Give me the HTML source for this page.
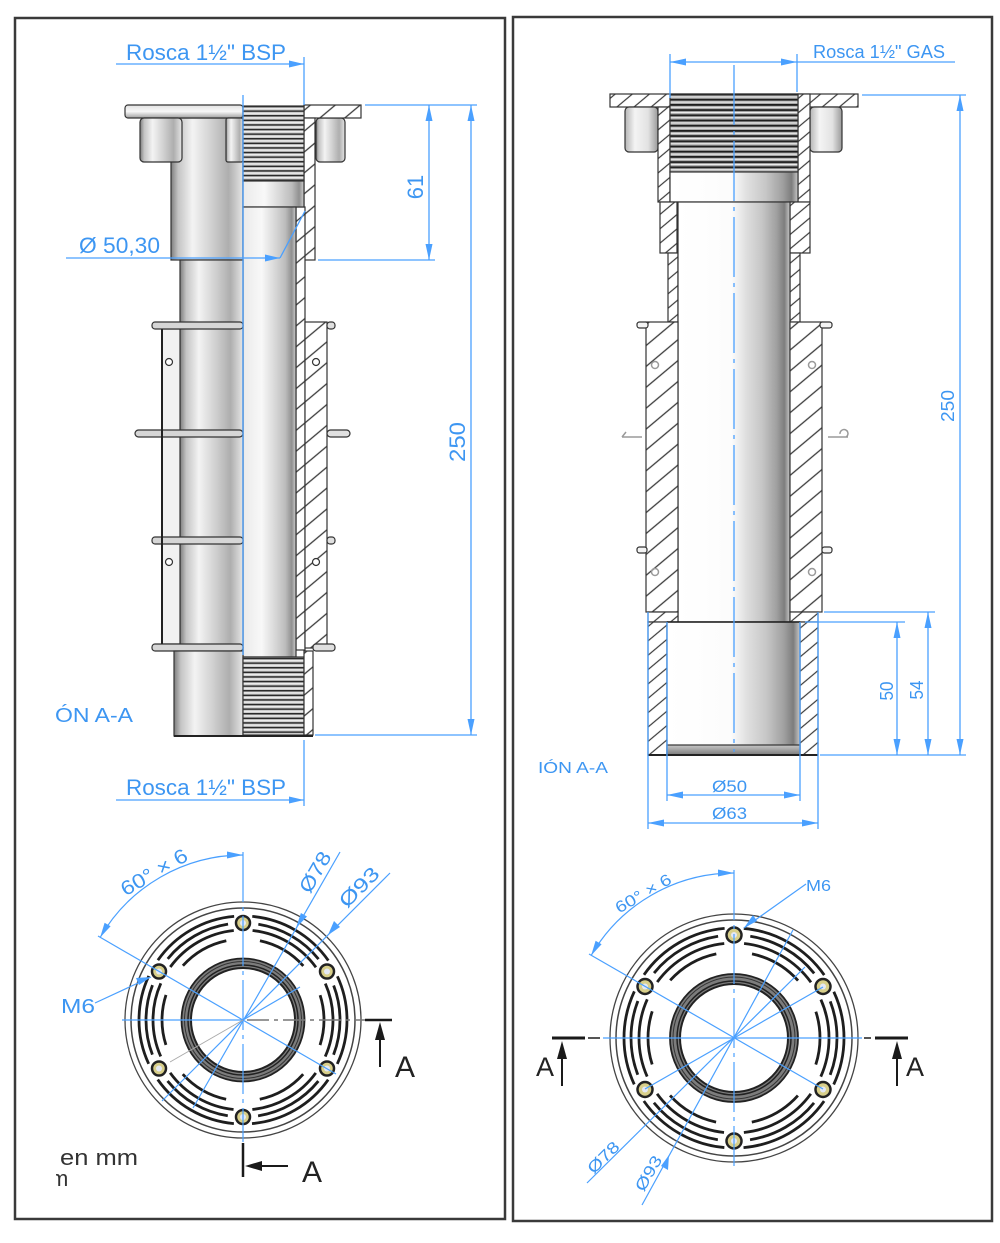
<!DOCTYPE html>
<html><head><meta charset="utf-8"><style>
html,body{margin:0;padding:0;background:#fff;}
svg{display:block;}
text{font-family:"Liberation Sans",sans-serif;}
</style></head><body>
<svg width="1000" height="1243" viewBox="0 0 1000 1243" xmlns="http://www.w3.org/2000/svg">
<defs>
<pattern id="hA" width="16" height="16" patternUnits="userSpaceOnUse" patternTransform="rotate(50)">
<rect width="16" height="16" fill="#fff"/><line x1="8" y1="0" x2="8" y2="16" stroke="#3a3a3a" stroke-width="1.3"/></pattern>
<pattern id="hB" width="11" height="11" patternUnits="userSpaceOnUse" patternTransform="rotate(50)">
<rect width="11" height="11" fill="#fff"/><line x1="5.5" y1="0" x2="5.5" y2="11" stroke="#3a3a3a" stroke-width="1.2"/></pattern>
<pattern id="tL" width="10" height="4.6" patternUnits="userSpaceOnUse">
<rect width="10" height="4.6" fill="#cdcdcd"/><rect width="10" height="1.5" fill="#2a2a2a"/><rect y="2.4" width="10" height="1" fill="#f3f3f3"/></pattern>
<pattern id="tR" width="10" height="5.2" patternUnits="userSpaceOnUse">
<rect width="10" height="5.2" fill="#a8a8a8"/><rect width="10" height="1.8" fill="#1e1e1e"/><rect y="2.8" width="10" height="1.1" fill="#eeeeee"/></pattern>
<linearGradient id="cylL" x1="0" x2="1" y1="0" y2="0">
<stop offset="0" stop-color="#7d7d7d"/><stop offset=".1" stop-color="#c4c4c4"/><stop offset=".3" stop-color="#f3f3f3"/><stop offset=".55" stop-color="#d2d2d2"/><stop offset=".8" stop-color="#aeaeae"/><stop offset=".92" stop-color="#cfcfcf"/><stop offset="1" stop-color="#e6e6e6"/></linearGradient>
<linearGradient id="boreL" x1="0" x2="1" y1="0" y2="0">
<stop offset="0" stop-color="#eaeaea"/><stop offset=".35" stop-color="#f8f8f8"/><stop offset=".6" stop-color="#d8d8d8"/><stop offset=".8" stop-color="#bcbcbc"/><stop offset=".92" stop-color="#909090"/><stop offset="1" stop-color="#cfcfcf"/></linearGradient>
<linearGradient id="boreR" x1="0" x2="1" y1="0" y2="0">
<stop offset="0" stop-color="#ffffff"/><stop offset=".48" stop-color="#fcfcfc"/><stop offset=".6" stop-color="#e0e0e0"/><stop offset=".75" stop-color="#c6c6c6"/><stop offset=".88" stop-color="#a0a0a0"/><stop offset=".95" stop-color="#7d7d7d"/><stop offset="1" stop-color="#c9c9c9"/></linearGradient>
<linearGradient id="cylR" x1="0" x2="1" y1="0" y2="0">
<stop offset="0" stop-color="#b5b5b5"/><stop offset=".3" stop-color="#f4f4f4"/><stop offset=".7" stop-color="#e2e2e2"/><stop offset="1" stop-color="#9a9a9a"/></linearGradient>
<linearGradient id="flg" x1="0" x2="0" y1="0" y2="1">
<stop offset="0" stop-color="#e2e2e2"/><stop offset=".5" stop-color="#f8f8f8"/><stop offset="1" stop-color="#a0a0a0"/></linearGradient>
<linearGradient id="band" x1="0" x2="0" y1="0" y2="1">
<stop offset="0" stop-color="#c8c8c8"/><stop offset="1" stop-color="#7a7a7a"/></linearGradient>
<clipPath id="clipL"><rect x="56" y="0" width="400" height="1243"/></clipPath>
</defs>

<!-- frames -->
<rect x="15" y="18" width="490" height="1201" fill="#fff" stroke="#3a3a3a" stroke-width="2.5"/>
<rect x="513" y="17" width="479" height="1204" fill="#fff" stroke="#3a3a3a" stroke-width="2.5"/>

<!-- ============ LEFT ELEVATION ============ -->
<g stroke="#333" stroke-width="1.2">
<rect x="171" y="118" width="72" height="142" fill="url(#cylL)"/>
<rect x="125" y="105" width="118" height="13" rx="3" fill="url(#flg)"/>
<rect x="140" y="118" width="42" height="44" rx="4" fill="url(#cylL)"/>
<rect x="226" y="118" width="17" height="44" rx="2" fill="url(#cylL)"/>
<rect x="316" y="118" width="29" height="44" rx="4" fill="url(#cylL)"/>
<rect x="304" y="105" width="57" height="13" fill="url(#hA)"/>
<rect x="304" y="118" width="11" height="142" fill="url(#hA)"/>
<rect x="296" y="207" width="9" height="443" fill="url(#hA)"/>
<rect x="305" y="322" width="22" height="326" fill="url(#hA)"/>
<rect x="243" y="106" width="61" height="75" fill="url(#tL)"/>
<rect x="243" y="181" width="61" height="26" fill="url(#boreL)"/>
<rect x="243" y="207" width="53" height="450" fill="url(#boreL)"/>
<rect x="180" y="260" width="63" height="390" fill="url(#cylL)"/>
<rect x="162" y="329" width="18" height="315" fill="#f2f2f2"/>
<rect x="152" y="322" width="91" height="7" rx="3" fill="#d6d6d6"/>
<rect x="135" y="430" width="108" height="7" rx="3.5" fill="#d6d6d6"/>
<rect x="152" y="537" width="91" height="7" rx="3" fill="#d6d6d6"/>
<rect x="152" y="644" width="91" height="7" rx="3" fill="#d6d6d6"/>
<rect x="327" y="322" width="8" height="7" rx="3" fill="#e0e0e0"/>
<rect x="327" y="430" width="23" height="7" rx="3.5" fill="#e0e0e0"/>
<rect x="327" y="537" width="8" height="7" rx="3" fill="#e0e0e0"/>
<rect x="313" y="644" width="22" height="7" rx="3" fill="#e0e0e0"/>
<rect x="174" y="651" width="69" height="85" fill="url(#cylL)"/>
<rect x="243" y="657" width="61" height="78" fill="url(#tL)"/>
<rect x="304" y="651" width="9" height="84" fill="url(#hA)"/>
<circle cx="169" cy="362" r="3.5" fill="#fff"/>
<circle cx="169" cy="562" r="3.5" fill="#fff"/>
<circle cx="316" cy="362" r="3.5" fill="#fff"/>
<circle cx="316" cy="562" r="3.5" fill="#fff"/>
</g>
<line x1="162" y1="329" x2="162" y2="644" stroke="#222" stroke-width="2"/>
<line x1="174" y1="736" x2="313" y2="736" stroke="#222" stroke-width="2"/>

<g stroke="#4aa0ff" stroke-width="1.3" fill="none">
<line x1="243" y1="95" x2="243" y2="655"/>
<line x1="116" y1="64" x2="304" y2="64"/>
<line x1="304" y1="57" x2="304" y2="105"/>
<line x1="365" y1="105" x2="477" y2="105"/>
<line x1="318" y1="260" x2="435" y2="260"/>
<line x1="429" y1="105" x2="429" y2="260"/>
<line x1="471" y1="105" x2="471" y2="735"/>
<line x1="315" y1="735" x2="477" y2="735"/>
<line x1="66" y1="258" x2="280" y2="258"/>
<line x1="280" y1="258" x2="305" y2="211"/>
<line x1="116" y1="800" x2="304" y2="800"/>
<line x1="304" y1="740" x2="304" y2="806"/>
</g>
<g fill="#4aa0ff">
<polygon points="304,64 289,60.5 289,67.5"/>
<polygon points="304,800 289,796.5 289,803.5"/>
<polygon points="280,258 265,254.5 265,261.5"/>
<polygon points="429,105 425.5,121 432.5,121"/>
<polygon points="429,260 425.5,244 432.5,244"/>
<polygon points="471,105 467.5,121 474.5,121"/>
<polygon points="471,735 467.5,719 474.5,719"/>
</g>
<g fill="#3d96f2">
<text x="126" y="60" font-size="22" textLength="160" lengthAdjust="spacingAndGlyphs">Rosca 1½" BSP</text>
<text x="126" y="795" font-size="22" textLength="160" lengthAdjust="spacingAndGlyphs">Rosca 1½" BSP</text>
<text x="79" y="253" font-size="22" textLength="81" lengthAdjust="spacingAndGlyphs">Ø 50,30</text>
<text x="55" y="722" font-size="20" textLength="78" lengthAdjust="spacingAndGlyphs">ÓN A-A</text>
<text transform="translate(415,187) rotate(-90)" x="0" y="8" font-size="22" text-anchor="middle">61</text>
<text transform="translate(457,442) rotate(-90)" x="0" y="8" font-size="22" text-anchor="middle" textLength="40" lengthAdjust="spacingAndGlyphs">250</text>
</g>

<!-- ============ RIGHT SECTION ============ -->
<g stroke="#333" stroke-width="1.2">
<rect x="610" y="94" width="248" height="13" fill="url(#hB)"/>
<rect x="625" y="107" width="33" height="45" rx="4" fill="url(#cylR)"/>
<rect x="810" y="107" width="32" height="45" rx="4" fill="url(#cylR)"/>
<rect x="658" y="107" width="12" height="95" fill="url(#hB)"/>
<rect x="798" y="94" width="12" height="108" fill="url(#hB)"/>
<rect x="670" y="94" width="128" height="78" fill="url(#tR)"/>
<rect x="670" y="172" width="128" height="30" fill="url(#boreR)"/>
<rect x="660" y="202" width="17" height="51" fill="url(#hB)"/>
<rect x="668" y="253" width="10" height="69" fill="url(#hB)"/>
<rect x="790" y="202" width="20" height="51" fill="url(#hB)"/>
<rect x="790" y="253" width="10" height="69" fill="url(#hB)"/>
<rect x="678" y="202" width="112" height="420" fill="url(#boreR)"/>
<rect x="646" y="322" width="32" height="290" fill="url(#hA)"/>
<rect x="790" y="322" width="32" height="290" fill="url(#hA)"/>
<rect x="637" y="322" width="11" height="6" rx="2.5" fill="#f4f4f4"/>
<rect x="820" y="322" width="12" height="6" rx="2.5" fill="#f4f4f4"/>
<rect x="637" y="547" width="10" height="6" rx="2.5" fill="#f4f4f4"/>
<rect x="822" y="547" width="10" height="6" rx="2.5" fill="#f4f4f4"/>
<rect x="648" y="612" width="30" height="10" fill="url(#hB)"/>
<rect x="790" y="612" width="28" height="10" fill="url(#hB)"/>
<rect x="648" y="622" width="19" height="133" fill="url(#hB)"/>
<rect x="800" y="622" width="18" height="133" fill="url(#hB)"/>
<rect x="667" y="622" width="133" height="133" fill="url(#boreR)"/>
<rect x="667" y="745" width="133" height="10" fill="url(#band)"/>
</g>
<g fill="none" stroke="#9a9a9a" stroke-width="1.5">
<path d="M622 437 h20 M622 437 l4 -5"/>
<path d="M828 437 h20 M846 437 a4 4 0 1 0 -6 -3"/>
<circle cx="655" cy="365" r="3.5"/><circle cx="812" cy="365" r="3.5"/>
<circle cx="655" cy="572" r="3.5"/><circle cx="812" cy="572" r="3.5"/>
</g>
<line x1="648" y1="755" x2="818" y2="755" stroke="#222" stroke-width="2"/>
<line x1="667" y1="622" x2="800" y2="622" stroke="#222" stroke-width="1.6"/>

<g stroke="#4aa0ff" stroke-width="1.3" fill="none">
<line x1="734" y1="65" x2="734" y2="752" stroke-dasharray="60 6 4 6"/>
<line x1="670" y1="54" x2="670" y2="98"/>
<line x1="797" y1="54" x2="797" y2="92"/>
<line x1="670" y1="62" x2="955" y2="62"/>
<line x1="862" y1="95" x2="966" y2="95"/>
<line x1="960" y1="95" x2="960" y2="755"/>
<line x1="824" y1="612" x2="935" y2="612"/>
<line x1="805" y1="622" x2="905" y2="622"/>
<line x1="820" y1="755" x2="966" y2="755"/>
<line x1="897" y1="622" x2="897" y2="755"/>
<line x1="928" y1="612" x2="928" y2="755"/>
<line x1="667" y1="622" x2="667" y2="801"/>
<line x1="800" y1="622" x2="800" y2="801"/>
<line x1="648" y1="612" x2="648" y2="829"/>
<line x1="818" y1="612" x2="818" y2="829"/>
<line x1="667" y1="795" x2="800" y2="795"/>
<line x1="648" y1="823" x2="818" y2="823"/>
</g>
<g fill="#4aa0ff">
<polygon points="670,62 686,58.5 686,65.5"/>
<polygon points="797,62 781,58.5 781,65.5"/>
<polygon points="960,95 956.5,111 963.5,111"/>
<polygon points="960,755 956.5,739 963.5,739"/>
<polygon points="897,622 893.5,638 900.5,638"/>
<polygon points="897,755 893.5,739 900.5,739"/>
<polygon points="928,612 924.5,628 931.5,628"/>
<polygon points="928,755 924.5,739 931.5,739"/>
<polygon points="667,795 683,791.5 683,798.5"/>
<polygon points="800,795 784,791.5 784,798.5"/>
<polygon points="648,823 664,819.5 664,826.5"/>
<polygon points="818,823 802,819.5 802,826.5"/>
</g>
<g fill="#3d96f2">
<text x="813" y="58" font-size="18" textLength="132" lengthAdjust="spacingAndGlyphs">Rosca 1½" GAS</text>
<text transform="translate(948,406) rotate(-90)" x="0" y="6" font-size="18" text-anchor="middle" textLength="32" lengthAdjust="spacingAndGlyphs">250</text>
<text transform="translate(887,691) rotate(-90)" x="0" y="6" font-size="18" text-anchor="middle" textLength="19" lengthAdjust="spacingAndGlyphs">50</text>
<text transform="translate(917,690) rotate(-90)" x="0" y="6" font-size="18" text-anchor="middle" textLength="19" lengthAdjust="spacingAndGlyphs">54</text>
<text x="712" y="792" font-size="17" textLength="35" lengthAdjust="spacingAndGlyphs">Ø50</text>
<text x="712" y="819" font-size="17" textLength="35" lengthAdjust="spacingAndGlyphs">Ø63</text>
<text x="538" y="773" font-size="16" textLength="70" lengthAdjust="spacingAndGlyphs">IÓN A-A</text>
</g>

<!-- ============ LEFT PLAN ============ -->
<g>
<circle cx="243" cy="1020" r="118" fill="#fff" stroke="#444" stroke-width="1.3"/>
<circle cx="243" cy="1020" r="112" fill="none" stroke="#444" stroke-width="1.5"/>
<g fill="none" stroke="#1e1e1e" stroke-width="2.8">
<circle cx="243" cy="1020" r="104" stroke-dasharray="90.76 18.15" stroke-dashoffset="45.38"/>
<circle cx="243" cy="1020" r="97" stroke-dasharray="71.11 30.47" stroke-dashoffset="35.55"/>
<circle cx="243" cy="1020" r="90" stroke-dasharray="75.40 18.85" stroke-dashoffset="37.70"/>
<circle cx="243" cy="1020" r="81" stroke-dasharray="50.89 33.93" stroke-dashoffset="25.45"/>
</g>
<circle cx="243" cy="1020" r="57" fill="none" stroke="#7c7c7c" stroke-width="9"/>
<circle cx="243" cy="1020" r="61.5" fill="none" stroke="#222" stroke-width="1.8"/>
<circle cx="243" cy="1020" r="58.5" fill="none" stroke="#333" stroke-width="1"/>
<circle cx="243" cy="1020" r="55" fill="none" stroke="#222" stroke-width="1.5"/>
<circle cx="243" cy="1020" r="52" fill="#fff" stroke="#222" stroke-width="2"/>
<g fill="#d8cf8a" stroke="#222" stroke-width="2.5">
<circle cx="243" cy="923" r="7"/><circle cx="327" cy="971.5" r="7"/><circle cx="327" cy="1068.5" r="7"/>
<circle cx="243" cy="1117" r="7"/><circle cx="159" cy="1068.5" r="7"/><circle cx="159" cy="971.5" r="7"/>
</g>
<g fill="#e4e8f4">
<circle cx="243" cy="923" r="3"/><circle cx="327" cy="971.5" r="3"/><circle cx="327" cy="1068.5" r="3"/>
<circle cx="243" cy="1117" r="3"/><circle cx="159" cy="1068.5" r="3"/><circle cx="159" cy="971.5" r="3"/>
</g>
</g>
<g stroke="#4aa0ff" stroke-width="1.2" fill="none">
<line x1="122" y1="1020" x2="243" y2="1020"/>
<line x1="243" y1="852" x2="243" y2="1142" stroke-dasharray="50 5 4 5"/>
<line x1="98" y1="936" x2="336" y2="1074"/>
<line x1="243" y1="1020" x2="300" y2="987"/>
<line x1="340" y1="852" x2="193" y2="1108"/>
<line x1="390" y1="873" x2="162" y2="1101"/>
<path d="M243 855 A165 165 0 0 0 100.1 937.5"/>
<line x1="95" y1="1003" x2="151" y2="977"/>
</g>
<line x1="243" y1="1020" x2="170" y2="1062" stroke="#aaa" stroke-width="1"/>
<line x1="247" y1="1020" x2="365" y2="1020" stroke="#777" stroke-width="1.5" stroke-dasharray="22 5 4 5"/>
<g fill="#4aa0ff">
<polygon points="243,855 227,851.5 227,858.5"/>
<polygon points="100.1,937.5 110.6,926.2 104.6,922.8"/>
<polygon points="296,928 300.9,913 307,916.5"/>
<polygon points="328,935 334,921 340,927"/>
<polygon points="151,977 136,978 139,985"/>
</g>
<g fill="#3d96f2" font-size="20">
<text transform="translate(154,872) rotate(-30)" x="0" y="7" text-anchor="middle" textLength="74" lengthAdjust="spacingAndGlyphs">60° × 6</text>
<text transform="translate(315,872) rotate(-60)" x="0" y="7" text-anchor="middle" textLength="44" lengthAdjust="spacingAndGlyphs">Ø78</text>
<text transform="translate(359,887) rotate(-45)" x="0" y="7" text-anchor="middle" textLength="48" lengthAdjust="spacingAndGlyphs">Ø93</text>
<text x="61" y="1013" textLength="34" lengthAdjust="spacingAndGlyphs">M6</text>
</g>
<g stroke="#1a1a1a" fill="none">
<line x1="365" y1="1020" x2="392" y2="1020" stroke-width="2.5"/>
<line x1="380" y1="1067" x2="380" y2="1036" stroke-width="2"/>
<line x1="243" y1="1143" x2="243" y2="1177" stroke-width="2.5"/>
<line x1="288" y1="1166" x2="258" y2="1166" stroke-width="2"/>
</g>
<g fill="#1a1a1a">
<polygon points="380,1022 375,1040 385,1040"/>
<polygon points="245,1166 262,1161 262,1171"/>
</g>
<g fill="#222" font-size="30">
<text x="395" y="1077">A</text>
<text x="302" y="1182">A</text>
</g>
<g fill="#333" font-size="22">
<text x="60" y="1165" textLength="78" lengthAdjust="spacingAndGlyphs">en mm</text>
<text x="50" y="1186" clip-path="url(#clipL)">m</text>
</g>

<!-- ============ RIGHT PLAN ============ -->
<g>
<circle cx="734" cy="1038" r="124" fill="#fff" stroke="#444" stroke-width="1.3"/>
<circle cx="734" cy="1038" r="118" fill="none" stroke="#444" stroke-width="1.5"/>
<g fill="none" stroke="#1e1e1e" stroke-width="2.8">
<circle cx="734" cy="1038" r="110" stroke-dasharray="95.99 19.2" stroke-dashoffset="48.0"/>
<circle cx="734" cy="1038" r="103" stroke-dasharray="75.50 32.36" stroke-dashoffset="37.75"/>
<circle cx="734" cy="1038" r="95" stroke-dasharray="79.58 19.90" stroke-dashoffset="39.79"/>
<circle cx="734" cy="1038" r="86" stroke-dasharray="54.04 36.02" stroke-dashoffset="27.02"/>
</g>
<circle cx="734" cy="1038" r="59" fill="none" stroke="#7c7c7c" stroke-width="10"/>
<circle cx="734" cy="1038" r="64" fill="none" stroke="#222" stroke-width="1.8"/>
<circle cx="734" cy="1038" r="61" fill="none" stroke="#333" stroke-width="1"/>
<circle cx="734" cy="1038" r="57" fill="none" stroke="#222" stroke-width="1.5"/>
<circle cx="734" cy="1038" r="54" fill="#fff" stroke="#222" stroke-width="2"/>
<g fill="#d8cf8a" stroke="#222" stroke-width="2.5">
<circle cx="734" cy="935" r="7.5"/><circle cx="823" cy="986.5" r="7.5"/><circle cx="823" cy="1089.5" r="7.5"/>
<circle cx="734" cy="1141" r="7.5"/><circle cx="645" cy="1089.5" r="7.5"/><circle cx="645" cy="986.5" r="7.5"/>
</g>
<g fill="#e4e8f4">
<circle cx="734" cy="935" r="3"/><circle cx="823" cy="986.5" r="3"/><circle cx="823" cy="1089.5" r="3"/>
<circle cx="734" cy="1141" r="3"/><circle cx="645" cy="1089.5" r="3"/><circle cx="645" cy="986.5" r="3"/>
</g>
</g>
<g stroke="#4aa0ff" stroke-width="1.2" fill="none">
<line x1="603" y1="1038" x2="862" y2="1038"/>
<line x1="734" y1="870" x2="734" y2="1166" stroke-dasharray="50 5 4 5"/>
<line x1="589" y1="954" x2="823" y2="1089"/>
<line x1="645" y1="1089" x2="823" y2="987"/>
<line x1="587" y1="1183" x2="805" y2="967"/>
<line x1="642" y1="1205" x2="793" y2="930"/>
<path d="M734 873 A165 165 0 0 0 591.1 955.5"/>
<line x1="806" y1="884" x2="744" y2="928"/>
</g>
<line x1="588" y1="1038" x2="600" y2="1038" stroke="#555" stroke-width="2"/>
<line x1="864" y1="1038" x2="871" y2="1038" stroke="#555" stroke-width="2"/>
<g fill="#4aa0ff">
<polygon points="734,873 718,869.5 718,876.5"/>
<polygon points="591.1,955.5 601.6,944.2 595.6,940.8"/>
<polygon points="744,928 753,915 757,921"/>
<polygon points="669,1155 668,1170 661,1166"/>
</g>
<g fill="#3d96f2" font-size="16">
<text transform="translate(643,893) rotate(-30)" x="0" y="6" text-anchor="middle" textLength="62" lengthAdjust="spacingAndGlyphs">60° × 6</text>
<text transform="translate(603,1157) rotate(-45)" x="0" y="6" text-anchor="middle" textLength="38" lengthAdjust="spacingAndGlyphs">Ø78</text>
<text transform="translate(648,1173) rotate(-60)" x="0" y="6" text-anchor="middle" textLength="38" lengthAdjust="spacingAndGlyphs">Ø93</text>
<text x="806" y="891" textLength="25" lengthAdjust="spacingAndGlyphs">M6</text>
</g>
<g stroke="#1a1a1a" fill="none">
<line x1="552" y1="1038" x2="585" y2="1038" stroke-width="3"/>
<line x1="562" y1="1086" x2="562" y2="1054" stroke-width="2"/>
<line x1="875" y1="1038" x2="908" y2="1038" stroke-width="3"/>
<line x1="897" y1="1086" x2="897" y2="1054" stroke-width="2"/>
</g>
<g fill="#1a1a1a">
<polygon points="562,1041 557,1059 567,1059"/>
<polygon points="897,1041 892,1059 902,1059"/>
</g>
<g fill="#222" font-size="27">
<text x="536" y="1076">A</text>
<text x="906" y="1076">A</text>
</g>
</svg>
</body></html>
